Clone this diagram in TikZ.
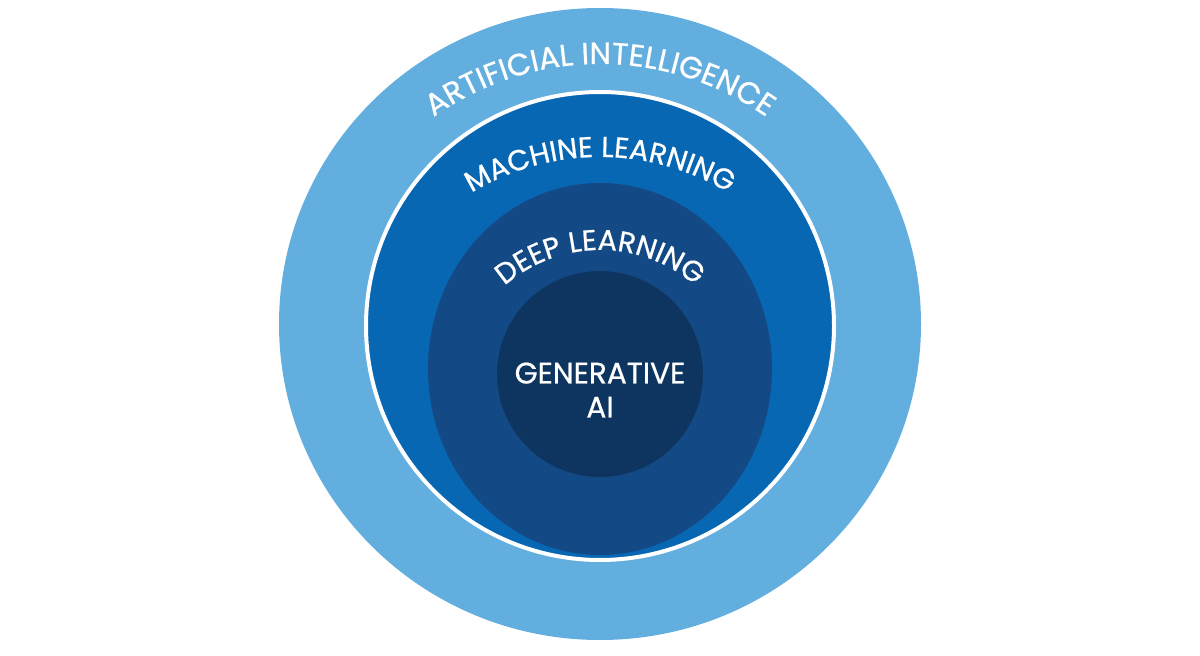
\documentclass[tikz,border=0pt]{standalone}
\usepackage{fontspec}
\setmainfont{Poppins}
\newfontfamily\labelfamily{Poppins}[FakeBold=0.7]
\usetikzlibrary{decorations.text}
\definecolor{aiblue}{HTML}{62AEDF}
\definecolor{mlblue}{HTML}{0867B3}
\definecolor{dlblue}{HTML}{134A85}
\definecolor{genblue}{HTML}{0D355F}
\newcommand{\ringfont}{\labelfamily\fontsize{14.4}{17}\selectfont}
\newcommand{\outerfont}{\labelfamily\fontsize{15.3}{18}\selectfont}
\newcommand{\corefont}{\labelfamily\fontsize{14.8}{17}\selectfont}

\begin{document}
\begin{tikzpicture}[x=0.5pt,y=0.5pt,
  ringtext/.style={decorate,decoration={text along path,text align=center,text={#1}}},
  field/.style={fill=#1}
]
\fill[white] (0,0) rectangle (1200,655);
\useasboundingbox (0,0) rectangle (1200,655);
% nested fields, outer to inner
\path[field=aiblue] (600,331) ellipse[x radius=321,y radius=316];
\path[field=mlblue,draw=white,line width=2pt] (600,329) circle[radius=234];
\path[field=dlblue] (600,286) ellipse[x radius=172,y radius=186];
\path[field=genblue] (600,281) circle[radius=103];
% curved labels
\path[ringtext={|\color{white}\outerfont|ARTIFICIAL INTELLIGENCE}]
  (600,304) ++(160:287) arc[start angle=160,end angle=20,radius=287];
\path[ringtext={|\color{white}\ringfont|MACHINE LEARNING}]
  (600,250) ++(160:248) arc[start angle=160,end angle=20,radius=248];
\path[ringtext={|\color{white}\ringfont|DEEP LEARNING}]
  (600,260) ++(165:145) arc[start angle=165,end angle=15,radius=145];
\node[text=white,font=\corefont,align=center] (gen) at (600,265) {GENERATIVE\\AI};
\end{tikzpicture}
\end{document}
